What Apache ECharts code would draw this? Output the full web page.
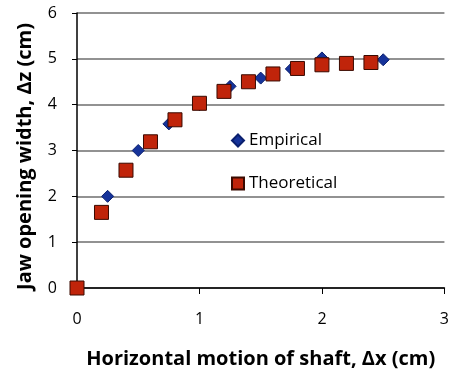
<!DOCTYPE html>
<html>
<head>
<meta charset="utf-8">
<script src="https://cdn.jsdelivr.net/npm/echarts@6/dist/echarts.min.js"></script>
<style>
html,body{margin:0;padding:0;background:#fff;}
#chart{width:452px;height:378px;}
</style>
</head>
<body>
<div id="chart"></div>
<script>
// 经验值（菱形）
var empX = [0, 0.25, 0.5, 0.75, 1.0, 1.25, 1.5, 1.75, 2.0, 2.5];
var empY = [0, 2.0, 3.0, 3.58, 4.0, 4.4, 4.58, 4.78, 5.02, 4.98];
// 理论值（方块）
var theoX = [0, 0.2, 0.4, 0.6, 0.8, 1.0, 1.2, 1.4, 1.6, 1.8, 2.0, 2.2, 2.4];
var theoY = [0, 1.65, 2.57, 3.19, 3.67, 4.03, 4.29, 4.5, 4.67, 4.79, 4.87, 4.9, 4.92];

function pairs(xs, ys){
	var out = [];
	for (var i = 0; i < xs.length; i++) out.push([xs[i], ys[i]]);
	return out;
}

var dom = document.getElementById("chart");
var myChart = echarts.init(dom);
var font = '"Open Sans", sans-serif';

var option = {
	animation: false,
	grid: { left: 77, right: 6, top: 13, bottom: 90 },
	legend: {
		orient: 'vertical',
		left: 226,
		top: 127,
		itemWidth: 12,
		itemHeight: 12,
		itemGap: 26,
		textStyle: { fontFamily: font, fontSize: 17, color: '#000' },
		data: ['Empirical', 'Theoretical']
	},
	xAxis: {
		type: 'value',
		min: 0, max: 3, interval: 1,
		name: 'Horizontal motion of shaft, Δx (cm)',
		nameLocation: 'middle',
		nameGap: 61,
		nameTextStyle: { fontFamily: font, fontSize: 20, fontWeight: 'bold', color: '#000' },
		axisLine: { lineStyle: { color: '#000', width: 1.5 } },
		axisTick: { show: true, length: 6, lineStyle: { color: '#000' } },
		axisLabel: { margin: 23, fontFamily: font, fontSize: 16, color: '#000' },
		splitLine: { show: false }
	},
	yAxis: {
		type: 'value',
		min: 0, max: 6, interval: 1,
		name: 'Jaw opening width, Δz (cm)',
		nameLocation: 'middle',
		nameGap: 42,
		nameTextStyle: { fontFamily: font, fontSize: 20, fontWeight: 'bold', color: '#000', padding: [0, 12, 0, 0] },
		axisLine: { show: true, lineStyle: { color: '#000', width: 1.5 } },
		axisTick: { show: true, length: 5, lineStyle: { color: '#000' } },
		axisLabel: { margin: 20, fontFamily: font, fontSize: 16, color: '#000' },
		splitLine: { show: true, lineStyle: { color: '#6e6e6e', width: 1.5 } }
	},
	series: [
		{
			name: 'Empirical',
			type: 'scatter',
			symbol: 'diamond',
			symbolSize: 12,
			itemStyle: { color: '#16339a', borderColor: '#0a1f6e', borderWidth: 1, opacity: 1 },
			data: pairs(empX, empY),
			z: 2
		},
		{
			name: 'Theoretical',
			type: 'scatter',
			symbol: 'rect',
			symbolSize: 14,
			itemStyle: { color: '#c0240a', borderColor: '#3a0a00', borderWidth: 1, opacity: 1 },
			data: pairs(theoX, theoY),
			z: 3
		}
	]
};
myChart.setOption(option, true);
</script>
</body>
</html>
